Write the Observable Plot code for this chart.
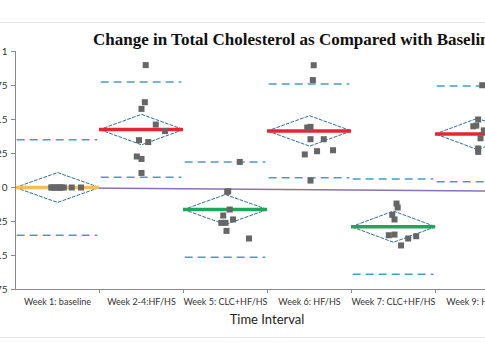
<!DOCTYPE html>
<html>
<head>
<meta charset="utf-8">
<script src="https://cdn.jsdelivr.net/npm/d3@7"></script>
<script src="https://cdn.jsdelivr.net/npm/@observablehq/plot@0.6"></script>
<style>
  html, body { margin: 0; padding: 0; background: #fff; }
  #wrap { position: relative; width: 485px; height: 360px; overflow: hidden; background: #fff; }
  #frame { position: absolute; left: -2px; width: 489px; top: 22px; height: 314px; border-top: 1px solid #e4e4e4; border-bottom: 1px solid #e4e4e4; }
  #title { position: absolute; left: 93px; top: 30px; white-space: nowrap; font-family: "Liberation Serif", serif; font-weight: bold; font-size: 17px; color: #111; }
  #xlabel { position: absolute; left: 15px; width: 504px; top: 311px; text-align: center; font-family: Lato, "Liberation Sans", sans-serif; font-size: 13px; color: #222; }
  #chart { position: absolute; left: 0; top: 0; }
</style>
</head>
<body>
<div id="wrap">
  <div id="frame"></div>
  <div id="chart"></div>
  <div id="title">Change in Total Cholesterol as Compared with Baseline</div>
  <div id="xlabel">Time Interval</div>
</div>
<script>
// Categories (time intervals)
const categories = ["Week 1: baseline", "Week 2-4:HF/HS", "Week 5: CLC+HF/HS", "Week 6: HF/HS", "Week 7: CLC+HF/HS", "Week 9: HF/HS"];
// Group means, confidence half-widths (diamonds), spread for dashed limits
const groupMeans = [0, 0.426, -0.162, 0.416, -0.288, 0.394];
const ciHalf = [0.11, 0.112, 0.11, 0.112, 0.115, 0.115];
const spread = [0.352, 0.35, 0.35, 0.345, 0.35, 0.352];
const meanColors = ["#ecc15a", "#e0282e", "#1fa65a", "#e0282e", "#1fa65a", "#e0282e"];
// Individual observations: group index, value, horizontal jitter (in category units)
const ptGroup = [0,0,0,0,0,0,0,0,0,0,
                 1,1,1,1,1,1,1,1,1,1,
                 2,2,2,2,2,2,2,2,2,2,
                 3,3,3,3,3,3,3,3,3,3,
                 4,4,4,4,4,4,4,4,4,
                 5,5,5,5,5,5,5,5];
const ptValue = [0,0,0,0,0,0,0,0,0,0,
                 0.90,0.627,0.578,0.463,0.415,0.348,0.334,0.228,0.21,0.107,
                 0.188,-0.027,-0.032,-0.162,-0.206,-0.235,-0.26,-0.26,-0.319,-0.375,
                 0.899,0.79,0.441,0.446,0.355,0.355,0.243,0.267,0.274,0.051,
                 -0.118,-0.147,-0.201,-0.235,-0.351,-0.346,-0.375,-0.358,-0.426,
                 0.752,0.5,0.45,0.455,0.42,0.362,0.287,0.262];
const ptJitter = [-0.075,-0.044,-0.012,0.015,0.048,0.075,0.17,0.28,-0.06,0.03,
                  0.05,0.04,0,0.17,0.28,-0.03,0.08,-0.056,0,0,
                  0.17,0.032,0.02,0.05,-0.027,0.09,-0.05,0,0.012,0.28,
                  0.05,0.04,-0.027,0.012,0.012,0.17,-0.056,0.09,0.28,0.012,
                  0.036,0.05,-0.015,0.012,-0.056,0.012,0.175,0.27,0.09,
                  0.056,0.008,-0.05,-0.015,0.075,0.036,0.008,0.008];
// Purple trend line endpoints (value at first and last category boundary)
const trendValues = [0, -0.027];
const yTicks = [-0.75, -0.5, -0.25, 0, 0.25, 0.5, 0.75, 1];

const groups = categories.map((c, i) => ({i, c, m: groupMeans[i], ci: ciHalf[i], s: spread[i], color: meanColors[i]}));
const diamonds = groups.flatMap(g => [
  {g: g.i, x: g.i, y: g.m}, {g: g.i, x: g.i + 0.5, y: g.m + g.ci},
  {g: g.i, x: g.i + 1, y: g.m}, {g: g.i, x: g.i + 0.5, y: g.m - g.ci},
  {g: g.i, x: g.i, y: g.m}
]);
const limits = groups.flatMap(g => [{i: g.i, y: g.m + g.s}, {i: g.i, y: g.m - g.s}]);
const points = ptValue.map((v, k) => ({x: ptGroup[k] + 0.5 + ptJitter[k], y: v}));
const trend = [{x: 0, y: trendValues[0]}, {x: categories.length, y: trendValues[1]}];

const fmt = d => (d === 0 ? "0" : String(d));

const chart = Plot.plot({
  width: 485,
  height: 360,
  marginTop: 51,
  marginBottom: 71,
  marginLeft: 15,
  marginRight: 0,
  style: {fontFamily: "Lato, 'Liberation Sans', sans-serif", fontSize: "9px", color: "#333", background: "transparent", overflow: "hidden"},
  x: {domain: [0, categories.length], range: [15, 519], axis: null},
  y: {domain: [-0.75, 1], axis: null},
  marks: [
    Plot.line(trend, {x: "x", y: "y", stroke: "#8b73b3", strokeWidth: 1.5}),
    Plot.ruleY(limits, {y: "y", x1: d => d.i + 0.02, x2: d => d.i + 0.98, stroke: "#4a9cc6", strokeWidth: 1.5, strokeDasharray: "8,5"}),
    Plot.line(diamonds, {x: "x", y: "y", z: "g", stroke: "#2f6f98", strokeWidth: 1, strokeDasharray: "3,2"}),
    Plot.ruleY(groups, {y: "m", x1: d => d.i, x2: d => d.i + 1, stroke: "color", strokeWidth: 3.5}),
    Plot.dot(points, {x: "x", y: "y", symbol: "square", r: 3.4, fill: "#666", stroke: "none"}),
    Plot.ruleX([0], {y1: -0.75, y2: 1, stroke: "#8a8a8a"}),
    Plot.ruleY([-0.75], {x1: 0, x2: categories.length, stroke: "#8a8a8a"}),
    Plot.axisY({ticks: yTicks, tickSize: 4, tickPadding: 4, tickFormat: fmt, stroke: "#8a8a8a", fill: "#333", fontSize: 10, label: null}),
    Plot.axisX({ticks: d3.range(1, categories.length + 1), tickSize: 4, tickFormat: () => "", stroke: "#8a8a8a", label: null}),
    Plot.text(groups, {x: d => d.i + 0.5, y: () => -0.75, text: "c", dy: 13, fill: "#333", fontSize: 9})
  ]
});
document.getElementById("chart").appendChild(chart);
</script>
</body>
</html>
